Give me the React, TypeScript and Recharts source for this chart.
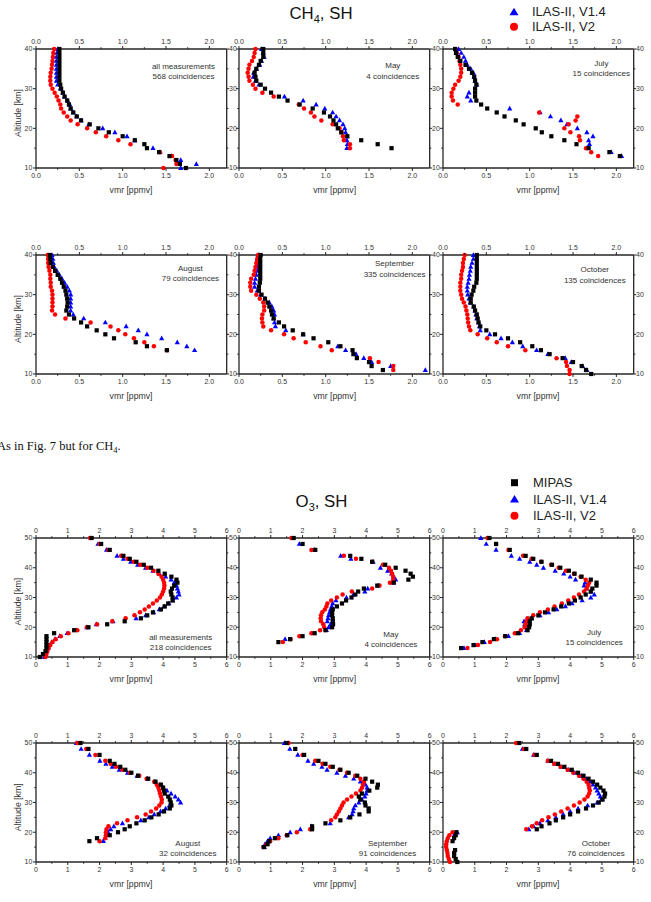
import React from 'react';
import { ScatterChart, Scatter, XAxis, YAxis } from 'recharts';

// ---------------- data ----------------
const ALT_CH4 = [40, 39, 38, 37, 36, 35, 34, 33, 32, 31, 30, 29, 28, 27, 26, 25, 24, 23, 22, 21, 20, 19, 18, 17, 16, 15, 14, 13, 12, 11, 10];
const ALT_O3 = [50, 48, 46, 44, 43, 42, 41, 40, 39, 38, 37, 36, 35, 34, 33, 32, 31, 30, 29, 28, 27, 26, 25, 24, 23, 22, 21, 20, 19, 18, 17, 16, 15, 14, 13, 12, 11, 10];

const CH4_XTICKS = [0, 0.25, 0.5, 0.75, 1, 1.25, 1.5, 1.75, 2];
const CH4_YTICKS = [10, 15, 20, 25, 30, 35, 40];
const O3_XTICKS = [0, 0.5, 1, 1.5, 2, 2.5, 3, 3.5, 4, 4.5, 5, 5.5, 6];
const O3_YTICKS = [10, 15, 20, 25, 30, 35, 40, 45, 50];

const SERIES_NAMES = ['MIPAS', 'ILAS-II, V1.4', 'ILAS-II, V2'];
const X_TITLE = 'vmr [ppmv]';
const Y_TITLE = 'Altitude [km]';

// CH4 (altitudes 40..10)
const ch4AllMipas = [0.27, 0.27, 0.27, 0.27, 0.27, 0.27, 0.27, 0.27, 0.27, 0.28, 0.29, 0.31, 0.33, 0.36, 0.38, 0.40, 0.43, 0.47, 0.52, 0.62, 0.72, 0.84, 1.00, 1.14, 1.25, 1.28, 1.42, 1.54, 1.62, 1.66, 1.73];
const ch4AllV14 = [0.25, 0.24, 0.235, 0.235, 0.235, 0.235, 0.235, 0.235, 0.235, 0.25, 0.28, 0.31, 0.33, 0.365, 0.39, 0.40, 0.43, 0.47, 0.52, 0.61, 0.77, 0.91, 1.05, 1.14, null, 1.35, 1.43, 1.56, 1.67, 1.85, 1.67];
const ch4AllV2 = [0.21, 0.20, 0.195, 0.19, 0.185, 0.18, 0.17, 0.165, 0.165, 0.17, 0.19, 0.215, 0.24, 0.26, 0.28, 0.29, 0.32, 0.36, 0.40, 0.48, 0.59, 0.69, 0.81, 0.95, 1.09, null, 1.43, 1.57, 1.61, 1.62, 1.47];

const ch4MayMipas = [0.28, 0.28, 0.28, 0.25, 0.23, 0.20, 0.18, 0.19, 0.20, 0.25, 0.30, 0.37, 0.46, 0.56, 0.70, 0.85, 0.98, 1.05, 1.09, 1.12, 1.14, 1.18, 1.25, 1.41, 1.60, 1.76];
const ch4MayV14 = [0.26, 0.28, 0.29, 0.26, 0.24, 0.20, 0.17, 0.165, 0.19, 0.23, null, null, 0.525, 0.74, 0.89, 0.99, 1.08, 1.12, 1.16, 1.20, 1.22, 1.23, 1.245, 1.245, 1.25, 1.245];
const ch4MayV2 = [0.19, 0.18, 0.17, 0.15, 0.12, 0.11, 0.10, 0.11, 0.12, 0.16, 0.19, 0.27, 0.40, null, 0.69, 0.75, 0.83, 0.87, 0.95, 1.08, 1.16, 1.18, 1.20, 1.21, 1.28, 1.28];

const ch4JulMipas = [0.14, 0.15, 0.17, 0.20, 0.26, 0.30, 0.335, 0.36, 0.37, 0.385, 0.37, 0.37, 0.37, 0.385, 0.44, 0.51, 0.62, 0.71, 0.84, 0.93, 1.07, 1.14, 1.25, 1.40, 1.54, 1.68, 1.92, 2.04];
const ch4JulV14 = [0.18, 0.21, 0.24, 0.26, 0.28, 0.32, 0.35, 0.36, 0.37, 0.39, null, 0.30, 0.28, 0.32, null, 0.77, 1.12, 1.24, 1.36, 1.43, 1.55, 1.66, 1.73, 1.68, 1.69, 1.66, 1.94, 2.06];
const ch4JulV2 = [0.14, 0.16, 0.18, 0.19, 0.20, 0.21, 0.21, 0.20, 0.18, 0.14, 0.12, 0.10, 0.10, 0.115, 0.17, null, 1.11, 1.55, 1.53, 1.45, 1.40, 1.47, 1.57, 1.58, null, 1.65, 1.71, 1.79];

const ch4AugMipas = [0.16, 0.165, 0.17, 0.195, 0.22, 0.25, 0.28, 0.30, 0.32, 0.34, 0.35, 0.36, 0.365, 0.36, 0.35, 0.38, 0.44, 0.52, 0.59, 0.70, 0.80, 0.90, 1.15, 1.28, 1.51];
const ch4AugV14 = [0.185, 0.195, 0.20, 0.21, 0.24, 0.27, 0.30, 0.33, 0.36, 0.385, 0.40, 0.40, 0.40, 0.40, 0.40, 0.43, 0.55, 0.80, 1.04, 1.18, 1.28, 1.45, 1.63, 1.74, 1.83];
const ch4AugV2 = [0.135, 0.14, 0.14, 0.145, 0.155, 0.165, 0.165, 0.17, 0.17, 0.185, 0.19, 0.19, 0.19, 0.19, 0.185, 0.22, 0.34, 0.63, 0.86, 0.95, 1.03, 1.13, 1.25, 1.36, 1.51];

const ch4SepMipas = [0.25, 0.245, 0.245, 0.245, 0.245, 0.245, 0.245, 0.24, 0.23, 0.23, 0.26, 0.30, 0.33, 0.35, 0.37, 0.38, 0.40, 0.46, 0.52, 0.62, 0.74, 0.86, 1.03, 1.17, 1.31, 1.32, 1.36, 1.50, 1.53, 1.66];
const ch4SepV14 = [0.22, 0.21, 0.21, 0.21, 0.21, 0.20, 0.19, 0.18, 0.18, 0.21, 0.25, 0.30, 0.35, 0.38, 0.40, 0.41, 0.40, 0.41, 0.42, 0.54, 0.74, null, null, 1.14, 1.23, 1.35, 1.44, 1.53, 1.75, 2.15];
const ch4SepV2 = [0.22, 0.21, 0.20, 0.19, 0.18, 0.17, 0.14, 0.13, 0.13, 0.14, 0.20, 0.24, 0.28, 0.29, 0.29, 0.27, 0.265, 0.27, 0.28, 0.37, 0.52, 0.63, 0.77, 0.94, 1.07, null, 1.51, 1.61, 1.78, 1.78];

const ch4OctMipas = [0.39, 0.39, 0.39, 0.39, 0.39, 0.39, 0.39, 0.385, 0.36, 0.35, 0.33, 0.32, 0.32, 0.355, 0.37, 0.39, 0.40, 0.41, 0.43, 0.50, 0.60, 0.75, 0.89, 1.03, 1.13, 1.23, 1.38, 1.50, 1.60, 1.65, 1.71];
const ch4OctV14 = [0.35, 0.35, 0.335, 0.32, 0.315, 0.305, 0.30, 0.29, 0.28, 0.28, 0.285, 0.30, 0.315, 0.355, 0.37, 0.38, 0.39, 0.41, 0.42, 0.43, 0.54, 0.67, 0.80, 0.92, 1.08, 1.21, 1.41, 1.48, 1.61, 1.66];
const ch4OctV2 = [0.25, 0.24, 0.23, 0.23, 0.22, 0.21, 0.21, 0.20, 0.20, 0.20, 0.21, 0.22, 0.24, 0.26, 0.27, 0.28, 0.285, 0.29, 0.30, 0.315, 0.40, 0.51, 0.62, 0.75, 0.95, null, 1.31, 1.42, 1.43, 1.46, 1.46];

// O3 (altitudes 50,48,46,44,43..10)
const o3AllMipas = [1.75, 2.05, 2.32, 2.75, 2.95, 3.16, 3.39, 3.62, 3.85, 4.05, 4.26, 4.42, 4.45, 4.35, 4.28, 4.24, 4.26, 4.3, 4.3, 4.16, 4.05, 3.93, 3.68, 3.5, 3.3, 2.79, 2.24, 1.65, 1.2, 0.57, 0.33, 0.33, 0.33, 0.33, 0.33, 0.3, 0.22, 0.12];
const o3AllV14 = [null, 1.95, 2.22, 2.55, 2.75, 2.98, 3.2, 3.45, 3.68, 3.88, 4.08, 4.25, 4.35, 4.42, 4.45, 4.48, 4.5, 4.42, 4.3, 4.18, 4.03, 3.88, 3.7, 3.45, 3.15, 2.42, 1.9, 1.6, 1.28, 0.98, 0.75, 0.6, 0.5, 0.43, 0.38, 0.34, 0.3, 0.27];
const o3AllV2 = [1.7, 2.0, 2.28, 2.68, 2.88, 3.08, 3.28, 3.5, 3.7, 3.85, 3.95, 4.0, 4.03, 4.04, 4.03, 4.0, 3.96, 3.9, 3.8, 3.68, 3.55, 3.42, 3.27, 3.1, 2.82, 2.4, 1.92, 1.6, 1.3, 1.02, 0.78, 0.62, 0.52, 0.45, 0.4, 0.36, 0.33, 0.3];

const o3MayMipas = [1.72, 2.0, 2.4, 3.5, 3.85, 4.19, 4.6, 4.93, 5.24, 5.4, 5.47, 5.33, 4.87, 4.35, 3.93, 3.75, 3.66, 3.54, 3.37, 3.24, 3.08, 2.95, 2.93, 2.93, 2.95, 2.95, 2.96, 2.93, 2.72, 2.38, 2.0, 1.61, 1.24];
const o3MayV14 = [null, 1.9, 2.38, 3.2, 3.52, 4.22, null, 4.45, 4.68, 4.8, 4.87, 4.93, 4.85, 4.38, 4.05, 3.96, 3.6, 3.38, 3.05, 2.95, 2.92, 2.88, 2.85, 2.82, 2.8, 2.78, 2.88, 2.82, 2.75, null, null, 1.45];
const o3MayV2 = [1.65, null, 2.28, 3.3, 3.68, 4.19, 4.53, 4.72, 4.78, 4.82, 4.85, 4.85, 4.75, 4.42, 4.19, 3.55, 3.26, 3.08, 2.9, 2.78, 2.75, 2.7, 2.62, 2.58, 2.57, 2.58, 2.65, 2.68, 2.55, 2.28, 1.9, 1.62, 1.38];

const o3JulMipas = [1.46, 1.67, 2.1, 2.6, 2.84, 3.1, 3.43, 3.69, 3.96, 4.14, 4.36, 4.65, 4.83, 4.83, 4.7, 4.65, 4.49, 4.33, 4.15, 3.96, 3.72, 3.48, 3.21, 3.0, 2.79, 2.73, 2.73, 2.71, 2.66, 2.36, 1.96, 1.6, 1.24, 0.96, 0.57];
const o3JulV14 = [1.19, 1.36, 1.67, 2.15, 2.41, 2.73, 2.95, 3.16, 3.53, 3.8, 4.0, 4.17, 4.47, 4.44, 4.51, 4.65, 4.76, 4.65, 4.38, 4.06, 3.85, 3.58, 3.32, 3.05, 2.79, 2.55, 2.57, 2.6, 2.63, 2.41, 2.06, 1.64, 1.3, 1.0, 0.66];
const o3JulV2 = [1.4, 1.67, 2.06, 2.52, 2.79, 3.09, 3.4, 3.64, 3.87, 4.12, 4.33, 4.49, 4.6, 4.56, 4.52, 4.44, 4.28, 4.12, 3.94, 3.74, 3.51, 3.3, 3.05, 2.84, 2.66, 2.63, 2.6, 2.57, 2.45, 2.26, 1.95, 1.7, 1.48, 1.1, 0.77];

const o3AugMipas = [1.4, 1.65, 2.0, 2.32, 2.47, 2.65, 2.81, 3.0, 3.21, 3.53, 3.76, 3.93, 4.0, 4.03, 4.05, 4.16, 4.21, 4.24, 4.26, 4.21, 4.03, 3.86, 3.63, 3.42, 3.16, 2.95, 2.79, 2.58, 2.32, 1.92, 1.68];
const o3AugV14 = [1.27, 1.42, 1.68, 2.01, 2.2, 2.4, 2.62, 2.88, 3.18, 3.5, 3.75, 3.9, 4.0, 4.12, 4.25, 4.38, 4.48, 4.55, 4.2, 4.08, 3.92, 3.72, 3.55, 3.3, 2.72, 2.45, 2.35, 2.27, 2.25, 2.17, 2.12];
const o3AugV2 = [1.3, 1.58, 1.87, 2.18, 2.35, 2.52, 2.72, 2.95, 3.25, 3.48, 3.72, 3.8, 3.85, 3.88, 3.9, 3.93, 3.96, 3.95, 3.88, 3.78, 3.62, 3.45, 3.18, 2.88, 2.55, 2.28, 2.22, 2.2, 2.2, 2.18, 2.0];

const o3SepMipas = [1.5, 1.77, 2.05, 2.5, 2.72, 2.95, 3.19, 3.45, 3.72, 3.98, 4.19, 4.37, 4.35, 4.1, 3.87, 3.77, 3.82, 3.96, 3.98, 4.08, 4.08, 3.79, 3.5, 3.19, 2.72, 2.3, 2.3, null, 1.52, 1.13, 0.95, 0.9, 0.78];
const o3SepV14 = [1.43, 1.6, 1.85, 2.17, 2.35, 2.61, 2.77, 3.08, 3.35, 3.61, 3.82, 3.98, 4.03, 4.03, 4.0, 3.96, 3.87, 3.77, 3.66, 3.61, 3.59, 3.56, 3.45, null, 2.87, 2.29, 1.93, 1.61, 1.24, 0.98, 0.9, 0.82, 0.8];
const o3SepV2 = [1.56, null, 2.0, 2.4, 2.63, 2.87, 3.16, 3.4, 3.66, 3.82, 3.93, 3.9, 3.87, 3.82, 3.68, 3.54, 3.4, 3.29, 3.24, 3.19, 3.14, 3.08, 3.03, 2.9, null, null, 2.24, 1.82, 1.5, 1.24, 0.98, 0.87, 0.77];

const o3OctMipas = [2.4, 2.62, 2.95, 3.4, 3.62, 3.82, 4.05, 4.25, 4.42, 4.58, 4.72, 4.85, 4.95, 5.05, 5.1, 5.08, 5.02, 4.9, 4.72, 4.5, 4.25, 4.0, 3.78, 3.55, 3.35, 3.1, 2.95, 0.42, 0.4, 0.35, 0.3, null, null, 0.38, 0.35, 0.35, 0.4, 0.45];
const o3OctV14 = [null, 2.5, 2.85, 3.3, 3.52, 3.72, 3.95, 4.15, 4.35, 4.5, 4.62, 4.72, 4.8, 4.85, 4.9, 4.95, 4.98, 4.85, 4.55, 4.25, 4.0, 3.78, 3.55, 3.3, 3.05, 2.85, 2.7, 0.45, 0.35];
const o3OctV2 = [2.3, 2.55, 2.88, 3.3, 3.5, 3.7, 3.92, 4.1, 4.28, 4.42, 4.52, 4.58, 4.6, 4.62, 4.6, 4.55, 4.45, 4.3, 4.12, 3.92, 3.72, 3.52, 3.32, 3.12, 2.95, 2.8, 2.62, 0.3, 0.2, 0.15, 0.12, 0.1, 0.1, 0.12, 0.14, 0.15, 0.18, 0.22];

// ---------------- layout / style ----------------
const PW = 190.7;
const PH = 119;
const ML = 28, MR = 18, MT = 14, MB = 14;
const AXSZ = 1; // size given to each axis band (kept tiny)
const COL_LEFT = [35.7, 239.3, 442.7];
const AX = '#262626';
const TXT = '#333';
const FONT = '"Liberation Sans", Arial, Helvetica, sans-serif';
const SERIF = '"Liberation Serif", "Times New Roman", serif';
const BLUE = '#0000ff';
const RED = '#ff0000';

type Vals = (number | null)[];
type PanelCfg = {
  kind: 'ch4' | 'o3';
  col: number;
  top: number;
  mipas: Vals;
  v14: Vals;
  v2: Vals;
  ann: [string, string];
  annX: number;
  annY: [number, number];
};

const PANELS: PanelCfg[] = [
  { kind: 'ch4', col: 0, top: 49, mipas: ch4AllMipas, v14: ch4AllV14, v2: ch4AllV2, ann: ['all measurements', '568 coincidences'], annX: 183.5, annY: [65.7, 76] },
  { kind: 'ch4', col: 1, top: 49, mipas: ch4MayMipas, v14: ch4MayV14, v2: ch4MayV2, ann: ['May', '4 coincidences'], annX: 392.8, annY: [65, 76] },
  { kind: 'ch4', col: 2, top: 49, mipas: ch4JulMipas, v14: ch4JulV14, v2: ch4JulV2, ann: ['July', '15 coincidences'], annX: 601.3, annY: [62.7, 73.3] },
  { kind: 'ch4', col: 0, top: 255, mipas: ch4AugMipas, v14: ch4AugV14, v2: ch4AugV2, ann: ['August', '79 coincidences'], annX: 190.4, annY: [267.7, 278.3] },
  { kind: 'ch4', col: 1, top: 255, mipas: ch4SepMipas, v14: ch4SepV14, v2: ch4SepV2, ann: ['September', '335 coincidences'], annX: 394.6, annY: [263.3, 274] },
  { kind: 'ch4', col: 2, top: 255, mipas: ch4OctMipas, v14: ch4OctV14, v2: ch4OctV2, ann: ['October', '135 coincidences'], annX: 594.8, annY: [269.3, 280] },
  { kind: 'o3', col: 0, top: 537.7, mipas: o3AllMipas, v14: o3AllV14, v2: o3AllV2, ann: ['all measurements', '218 coincidences'], annX: 180.7, annY: [636.7, 646.7] },
  { kind: 'o3', col: 1, top: 537.7, mipas: o3MayMipas, v14: o3MayV14, v2: o3MayV2, ann: ['May', '4 coincidences'], annX: 390.9, annY: [634.3, 644.3] },
  { kind: 'o3', col: 2, top: 537.7, mipas: o3JulMipas, v14: o3JulV14, v2: o3JulV2, ann: ['July', '15 coincidences'], annX: 594.2, annY: [631.7, 641.7] },
  { kind: 'o3', col: 0, top: 743.3, mipas: o3AugMipas, v14: o3AugV14, v2: o3AugV2, ann: ['August', '32 coincidences'], annX: 187.8, annY: [842.7, 852.7] },
  { kind: 'o3', col: 1, top: 743.3, mipas: o3SepMipas, v14: o3SepV14, v2: o3SepV2, ann: ['September', '91 coincidences'], annX: 387.5, annY: [842.7, 852.7] },
  { kind: 'o3', col: 2, top: 743.3, mipas: o3OctMipas, v14: o3OctV14, v2: o3OctV2, ann: ['October', '76 coincidences'], annX: 596, annY: [842.7, 852.7] },
];

function pts(alts: number[], vals: Vals) {
  const out: { v: number; alt: number }[] = [];
  vals.forEach((v, i) => {
    if (v !== null && v !== undefined) out.push({ v, alt: alts[i] });
  });
  return out;
}

function isMult(v: number, step: number) {
  return Math.abs(v / step - Math.round(v / step)) < 1e-6;
}

function makeTick(side: 'bottom' | 'top' | 'left' | 'right', majorStep: number, fmt: (v: number) => string, showLabel: boolean) {
  return (p: any) => {
    const x = Number(p.x);
    const y = Number(p.y);
    const v = Number(p.payload && p.payload.value);
    const major = isMult(v, majorStep);
    const len = major ? 3 : 1.8;
    let line: any = null;
    let label: any = null;
    const ts = { fontSize: 7, fontFamily: FONT, fill: TXT };
    if (side === 'bottom') {
      line = <line x1={x} x2={x} y1={y} y2={y + len} stroke={AX} strokeWidth={1} />;
      if (major && showLabel) label = <text x={x} y={y + 9.9} textAnchor="middle" {...ts}>{fmt(v)}</text>;
    } else if (side === 'top') {
      line = <line x1={x} x2={x} y1={y} y2={y - len} stroke={AX} strokeWidth={1} />;
      if (major && showLabel) label = <text x={x} y={y - 4.8} textAnchor="middle" {...ts}>{fmt(v)}</text>;
    } else if (side === 'left') {
      line = <line x1={x} x2={x - len} y1={y} y2={y} stroke={AX} strokeWidth={1} />;
      if (major && showLabel) label = <text x={x - 3.6} y={y + 2.5} textAnchor="end" {...ts}>{fmt(v)}</text>;
    } else {
      line = <line x1={x} x2={x + (major ? 2.5 : 1.6)} y1={y} y2={y} stroke={AX} strokeWidth={1} />;
      if (major && showLabel) label = <text x={x + 2.4} y={y + 2.5} textAnchor="start" {...ts}>{fmt(v)}</text>;
    }
    return (
      <g>
        {line}
        {label}
      </g>
    );
  };
}

const SquareShape = (p: any) => <rect x={p.cx - 2.1} y={p.cy - 2.1} width={4.2} height={4.2} fill="#000" />;
const TriShape = (p: any) => (
  <polygon points={`${p.cx},${p.cy - 2.8} ${p.cx + 2.6},${p.cy + 1.9} ${p.cx - 2.6},${p.cy + 1.9}`} fill={BLUE} />
);
const DotShape = (p: any) => <circle cx={p.cx} cy={p.cy} r={2.25} fill={RED} />;

const AXLINE = { stroke: AX, strokeWidth: 1.3 };

function Panel({ cfg }: { cfg: PanelCfg }) {
  const isCh4 = cfg.kind === 'ch4';
  const alts = isCh4 ? ALT_CH4 : ALT_O3;
  const xDomain: [number, number] = isCh4 ? [0, 2.2] : [0, 6];
  const yDomain: [number, number] = isCh4 ? [10, 40] : [10, 50];
  const xTicks = isCh4 ? CH4_XTICKS : O3_XTICKS;
  const yTicks = isCh4 ? CH4_YTICKS : O3_YTICKS;
  const xMajor = isCh4 ? 0.5 : 1;
  const fmtX = isCh4 ? (v: number) => v.toFixed(1) : (v: number) => String(v);
  const fmtY = (v: number) => String(v);
  const left = COL_LEFT[cfg.col];
  const W = PW + ML + MR;
  const H = PH + MT + MB;
  return (
    <div style={{ position: 'absolute', left: left - ML, top: cfg.top - MT }}>
      <ScatterChart width={W} height={H}
        margin={{ top: MT - AXSZ, right: MR - AXSZ, bottom: MB - AXSZ, left: ML - AXSZ }}>
        <XAxis xAxisId="b" orientation="bottom" type="number" dataKey="v" domain={xDomain} ticks={xTicks} interval={0}
          height={AXSZ} tickLine={false} tickSize={0} tickMargin={0} axisLine={AXLINE} tick={makeTick('bottom', xMajor, fmtX, true)} />
        <XAxis xAxisId="t" orientation="top" type="number" dataKey="v" domain={xDomain} ticks={xTicks} interval={0} allowDataOverflow
          height={AXSZ} tickLine={false} tickSize={0} tickMargin={0} axisLine={AXLINE} tick={makeTick('top', xMajor, fmtX, true)} />
        <YAxis yAxisId="l" orientation="left" type="number" dataKey="alt" domain={yDomain} ticks={yTicks} interval={0}
          width={AXSZ} tickLine={false} tickSize={0} tickMargin={0} axisLine={AXLINE} tick={makeTick('left', 10, fmtY, cfg.col === 0)} />
        <YAxis yAxisId="r" orientation="right" type="number" dataKey="alt" domain={yDomain} ticks={yTicks} interval={0} allowDataOverflow
          width={AXSZ} tickLine={false} tickSize={0} tickMargin={0} axisLine={AXLINE} tick={makeTick('right', 10, fmtY, true)} />
        <Scatter name={SERIES_NAMES[1]} xAxisId="b" yAxisId="l" data={pts(alts, cfg.v14)} shape={TriShape} isAnimationActive={false} />
        <Scatter name={SERIES_NAMES[2]} xAxisId="b" yAxisId="l" data={pts(alts, cfg.v2)} shape={DotShape} isAnimationActive={false} />
        <Scatter name={SERIES_NAMES[0]} xAxisId="b" yAxisId="l" data={pts(alts, cfg.mipas)} shape={SquareShape} isAnimationActive={false} />
      </ScatterChart>
    </div>
  );
}

function Overlay() {
  return (
    <svg width={651} height={902} style={{ position: 'absolute', left: 0, top: 0, pointerEvents: 'none' }}>
      {/* CH4 block title and legend */}
      <text x={321} y={18.5} textAnchor="middle" fontSize={16.8} fontFamily={FONT} fill="#111">
        CH<tspan fontSize={11} dy={4}>4</tspan><tspan dy={-4}>, SH</tspan>
      </text>
      <polygon points="514,7.7 518.5,15.2 509.5,15.2" fill={BLUE} />
      <text x={532} y={16.4} fontSize={13} fontFamily={FONT} fill="#222">{SERIES_NAMES[1]}</text>
      <circle cx={514} cy={26.7} r={4} fill={RED} />
      <text x={532} y={31.4} fontSize={13} fontFamily={FONT} fill="#222">{SERIES_NAMES[2]}</text>

      {/* caption */}
      <text x={-3} y={450} fontSize={12.5} fontFamily={SERIF} fill="#111">
        As in Fig. 7 but for CH<tspan fontSize={8.5} dy={2.5}>4</tspan><tspan dy={-2.5}>.</tspan>
      </text>

      {/* O3 block title and legend */}
      <text x={321.5} y={507.3} textAnchor="middle" fontSize={16.8} fontFamily={FONT} fill="#111">
        O<tspan fontSize={11} dy={4}>3</tspan><tspan dy={-4}>, SH</tspan>
      </text>
      <rect x={511} y={479.2} width={7} height={7} fill="#000" />
      <text x={533} y={487.4} fontSize={13} fontFamily={FONT} fill="#222">{SERIES_NAMES[0]}</text>
      <polygon points="514.5,495 519,502.5 510,502.5" fill={BLUE} />
      <text x={533} y={503.7} fontSize={13} fontFamily={FONT} fill="#222">{SERIES_NAMES[1]}</text>
      <circle cx={514.5} cy={515.7} r={4} fill={RED} />
      <text x={533} y={520.4} fontSize={13} fontFamily={FONT} fill="#222">{SERIES_NAMES[2]}</text>

      {PANELS.map((p, i) => {
        const left = COL_LEFT[p.col];
        return (
          <g key={i}>
            <text x={p.annX} y={p.annY[0] + 2.9} textAnchor="middle" fontSize={8} fontFamily={FONT} fill={TXT}>{p.ann[0]}</text>
            <text x={p.annX} y={p.annY[1] + 2.9} textAnchor="middle" fontSize={8} fontFamily={FONT} fill={TXT}>{p.ann[1]}</text>
            <text x={left + PW / 2} y={p.top + PH + 25} textAnchor="middle" fontSize={8.7} fontFamily={FONT} fill={TXT}>{X_TITLE}</text>
            {p.col === 0 && (
              <text transform={`translate(21.3, ${p.top + 64}) rotate(-90)`} x={0} y={0} textAnchor="middle" fontSize={8.7} fontFamily={FONT} fill={TXT}>{Y_TITLE}</text>
            )}
          </g>
        );
      })}
    </svg>
  );
}

export default function App() {
  return (
    <div style={{ position: 'absolute', left: 0, top: 0, width: 651, height: 902, overflow: 'hidden', background: '#fff' }}>
      {PANELS.map((p, i) => (
        <Panel key={i} cfg={p} />
      ))}
      <Overlay />
    </div>
  );
}
